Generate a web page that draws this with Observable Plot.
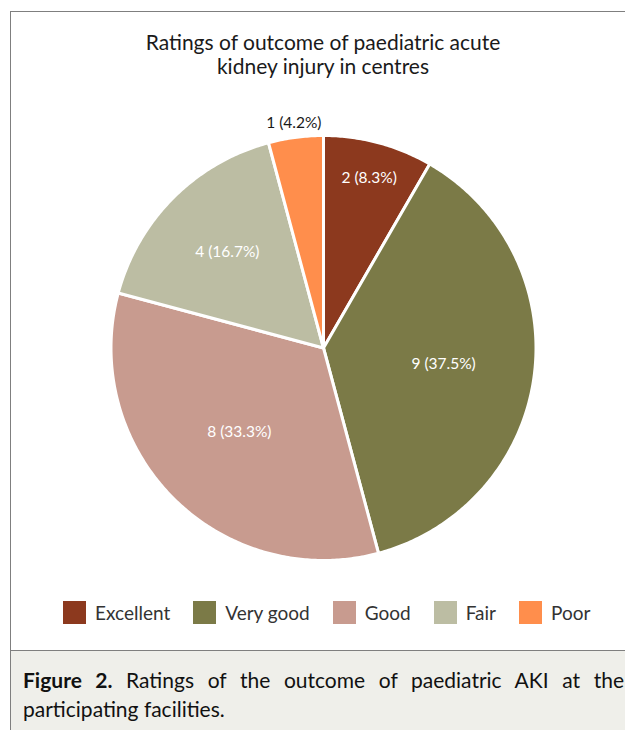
<!DOCTYPE html>
<html>
<head>
<meta charset="utf-8">
<script src="https://cdn.jsdelivr.net/npm/d3@7"></script>
<script src="https://cdn.jsdelivr.net/npm/@observablehq/plot@0.6"></script>
<style>
  html, body { margin: 0; padding: 0; background: #fff; }
  body { width: 625px; height: 730px; position: relative; overflow: hidden; font-family: "Gill Sans", "Gill Sans MT", Lato, "Noto Sans", sans-serif; color: #1a1a1a; }
  #frame { position: absolute; left: 10px; top: 11px; width: 700px; height: 640px; border-left: 1.5px solid #7f7f7f; border-top: 1.5px solid #7f7f7f; border-bottom: 1.5px solid #7f7f7f; box-sizing: border-box; }
  #title { position: absolute; left: 0; width: 646px; top: 30px; text-align: center; font-size: 21px; line-height: 24px; }
  #chart { position: absolute; left: 0; top: 87px; }
  #legend { position: absolute; top: 601px; left: 63px; height: 23px; display: flex; align-items: center; font-size: 19px; color: #333; }
  #legend .item { display: flex; align-items: center; margin-right: 23px; }
  #legend .sw { width: 23px; height: 23px; margin-right: 9px; }
  #caption { position: absolute; left: 10px; top: 651px; width: 700px; height: 90px; background: #efefea; border-left: 1.5px solid #7f7f7f; box-sizing: border-box; }
  #captext { position: absolute; left: 12px; top: 14px; width: 601px; font-size: 21px; line-height: 29px; color: #111; }
  #captext .l1 { text-align: justify; text-align-last: justify; }
</style>
</head>
<body>
<div id="frame"></div>
<div id="title">Ratings of outcome of paediatric acute<br>kidney injury in centres</div>
<div id="chart"></div>
<div id="legend"></div>
<div id="caption"><div id="captext"><div class="l1"><b>Figure 2.</b> Ratings of the outcome of paediatric AKI at the</div><div>participating facilities.</div></div></div>
<script>
// ---- data ----
const categories = ["Excellent", "Very good", "Good", "Fair", "Poor"];
const counts = [2, 9, 8, 4, 1];
const percentLabels = ["8.3%", "37.5%", "33.3%", "16.7%", "4.2%"];
const colors = ["#8c391e", "#7b7a47", "#c89b8f", "#bcbda3", "#ff8e4c"];
const labelColors = ["#ffffff", "#ffffff", "#ffffff", "#ffffff", "#1a1a1a"];
const labelRadius = [0.83, 0.57, 0.56, 0.64, 1.07];

// ---- layout ----
const W = 625, H = 520, cx = 323, cy = 260.5, R = 212.5;

const total = d3.sum(counts);
const slices = [];
let acc = 0;
categories.forEach((name, i) => {
  const a0 = acc / total * 2 * Math.PI;
  acc += counts[i];
  const a1 = acc / total * 2 * Math.PI;
  const mid = (a0 + a1) / 2;
  slices.push({
    name, a0, a1,
    lx: Math.sin(mid) * labelRadius[i],
    ly: Math.cos(mid) * labelRadius[i],
    label: `${counts[i]} (${percentLabels[i]})`,
    lcolor: labelColors[i]
  });
});

const pts = [];
for (const s of slices) {
  pts.push({name: s.name, x: 0, y: 0});
  const n = Math.max(4, Math.ceil((s.a1 - s.a0) / 0.01));
  for (let k = 0; k <= n; k++) {
    const a = s.a0 + (s.a1 - s.a0) * k / n;
    pts.push({name: s.name, x: Math.sin(a), y: Math.cos(a)});
  }
}

const chart = Plot.plot({
  width: W, height: H,
  margin: 0,
  x: {domain: [-cx / R, (W - cx) / R], axis: null},
  y: {domain: [-(H - cy) / R, cy / R], axis: null},
  color: {domain: categories, range: colors},
  style: {fontFamily: '"Gill Sans", "Gill Sans MT", Lato, "Noto Sans", sans-serif', background: "transparent"},
  marks: [
    Plot.line(pts, {x: "x", y: "y", z: "name", fill: "name", stroke: "white", strokeWidth: 3, strokeLinejoin: "round", curve: "linear-closed"}),
    Plot.text(slices, {x: "lx", y: "ly", text: "label", fill: "lcolor", fontSize: 15.5})
  ]
});
document.getElementById("chart").appendChild(chart);

const legend = document.getElementById("legend");
categories.forEach((c, i) => {
  const it = document.createElement("div");
  it.className = "item";
  const sw = document.createElement("div");
  sw.className = "sw";
  sw.style.background = colors[i];
  const t = document.createElement("span");
  t.textContent = c;
  it.appendChild(sw); it.appendChild(t);
  legend.appendChild(it);
});
</script>
</body>
</html>
